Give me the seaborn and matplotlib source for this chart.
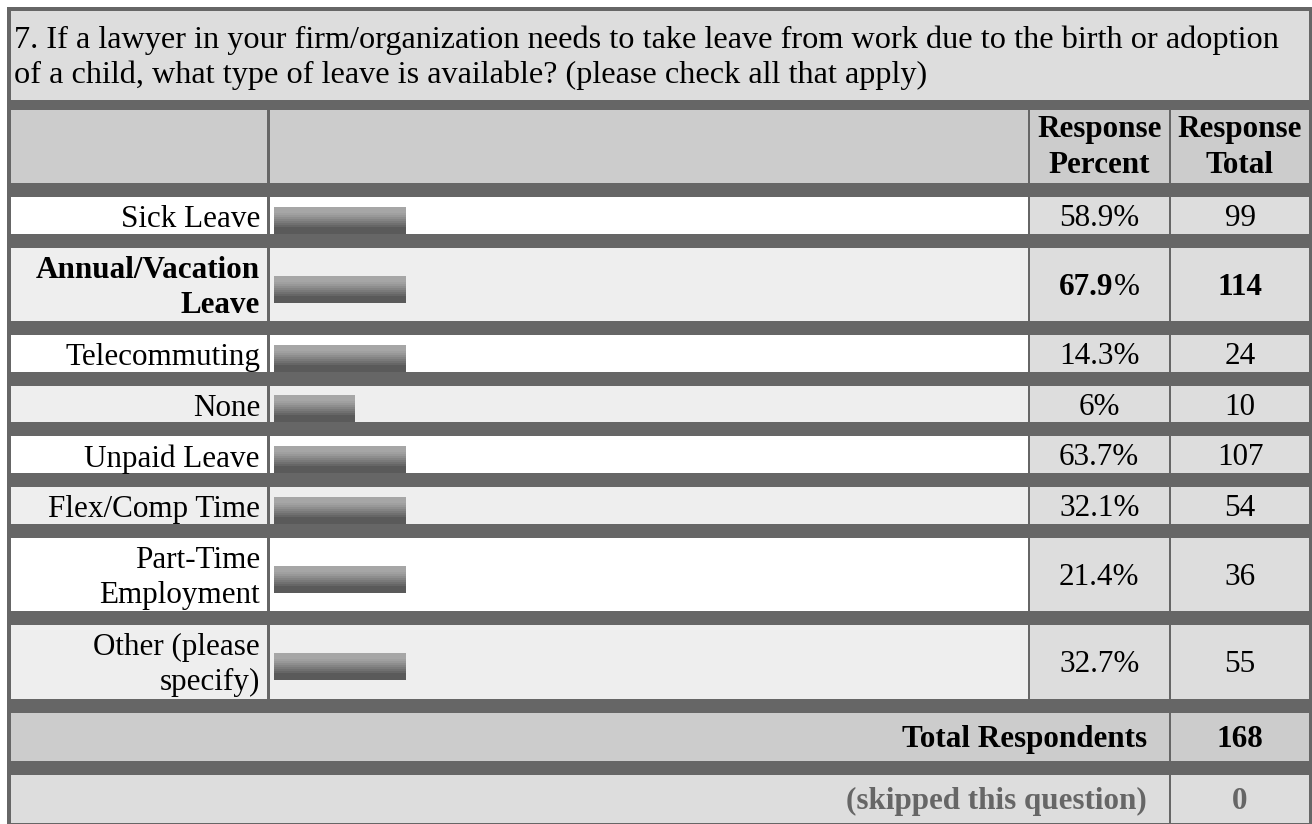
import numpy as np
import pandas as pd
import matplotlib
matplotlib.use("Agg")
import matplotlib.pyplot as plt
import seaborn as sns
from matplotlib.patches import Rectangle

# ---------------- data ----------------
title_lines = [
    "7. If a lawyer in your firm/organization needs to take leave from work due to the birth or adoption",
    "of a child, what type of leave is available? (please check all that apply)",
]
categories = ["Sick Leave", "Annual/Vacation\nLeave", "Telecommuting", "None",
              "Unpaid Leave", "Flex/Comp Time", "Part-Time\nEmployment", "Other (please\nspecify)"]
percents = [58.9, 67.9, 14.3, 6, 63.7, 32.1, 21.4, 32.7]
totals = [99, 114, 24, 10, 107, 54, 36, 55]
# relative bar lengths as drawn in the original chart
bar_lengths = [1.0, 1.0, 1.0, 0.61, 1.0, 1.0, 1.0, 1.0]
highlight = "Annual/Vacation\nLeave"
header_cols = ["Response\nPercent", "Response\nTotal"]
total_label = "Total Respondents"
total_respondents = 168
skipped_label = "(skipped this question)"
skipped = 0

# ---------------- style ----------------
sns.set_style("white")
plt.rcParams['font.family'] = ['Liberation Serif', 'DejaVu Serif']
plt.rcParams['text.color'] = 'black'
FS = 22.4
TITLE_FS = 23.2
TXT = '#000000'

W, H = 1312, 824
fig = plt.figure(figsize=(W / 100, H / 100), dpi=100)
ax = fig.add_axes([0, 0, 1, 1])
ax.set_xlim(0, W)
ax.set_ylim(H, 0)
ax.axis('off')

DARK = '#666666'
ax.add_patch(Rectangle((7, 7), W - 7, H - 7, color=DARK, lw=0, zorder=0))


def cell(x0, x1, y0, y1, color):
    ax.add_patch(Rectangle((x0, y0), x1 - x0, y1 - y0, color=color, lw=0, zorder=1))


# column edges
L0, L1 = 10.5, 266.5
B0, B1 = 269.5, 1027.5
P0, P1 = 1029.5, 1169.0
T0, T1 = 1171.0, 1309.0
PC = (P0 + P1) / 2
TC = (T0 + T1) / 2
LABEL_X = 260
BAR_X0 = 274
BAR_UNIT = 132

# title
cell(L0, T1, 10.5, 100, '#dddddd')
for k, line in enumerate(title_lines):
    ax.text(14, 47.5 + 35 * k, line, fontsize=TITLE_FS, color=TXT, va='baseline', ha='left', zorder=3)

# header
hy0, hy1 = 110, 183
cell(L0, L1, hy0, hy1, '#cccccc')
cell(B0, B1, hy0, hy1, '#cccccc')
cell(P0, P1, hy0, hy1, '#cccccc')
cell(T0, T1, hy0, hy1, '#cccccc')
for cx, hdr in zip([PC, TC], header_cols):
    for k, line in enumerate(hdr.split("\n")):
        ax.text(cx, 137 + 36 * k, line, fontsize=FS, color=TXT, weight='bold',
                ha='center', va='baseline', zorder=3)

# data rows
SEP = 14
SINGLE, DOUBLE = 36.6, 73.6
y = 197.0
bar_centers = []
renderer = fig.canvas.get_renderer()
for i, (cat, pct, tot) in enumerate(zip(categories, percents, totals)):
    lines = cat.split("\n")
    h = SINGLE if len(lines) == 1 else DOUBLE
    y0, y1 = y, y + h
    mid = (y0 + y1) / 2
    bg = '#ffffff' if i % 2 == 0 else '#eeeeee'
    cell(L0, L1, y0, y1, bg)
    cell(B0, B1, y0, y1, bg)
    cell(P0, P1, y0, y1, '#dddddd')
    cell(T0, T1, y0, y1, '#dddddd')
    bold = (cat == highlight)
    wt = 'bold' if bold else 'normal'
    if len(lines) == 1:
        ax.text(LABEL_X, y1 - 6.5, lines[0], fontsize=FS, color=TXT, weight=wt,
                ha='right', va='baseline', zorder=3)
        bar_centers.append(y1 - 13.5)
    else:
        ax.text(LABEL_X, y0 + 30, lines[0], fontsize=FS, color=TXT, weight=wt,
                ha='right', va='baseline', zorder=3)
        ax.text(LABEL_X, y0 + 65, lines[1], fontsize=FS, color=TXT, weight=wt,
                ha='right', va='baseline', zorder=3)
        bar_centers.append(y0 + 41.5)
    base = mid + 10.5
    num = f"{pct:g}"
    if bold:
        t1 = ax.text(0, base, num, fontsize=FS, color=TXT, weight='bold', ha='left', va='baseline', zorder=3)
        t2 = ax.text(0, base, "%", fontsize=FS, color=TXT, ha='left', va='baseline', zorder=3)
        w1 = t1.get_window_extent(renderer).width
        w2 = t2.get_window_extent(renderer).width
        left = PC - (w1 + w2) / 2
        t1.set_x(left)
        t2.set_x(left + w1)
    else:
        ax.text(PC, base, num + "%", fontsize=FS, color=TXT, ha='center', va='baseline', zorder=3)
    ax.text(TC, base, str(tot), fontsize=FS, color=TXT, weight=wt, ha='center', va='baseline', zorder=3)
    y = y1 + SEP

# total respondents row
y0, y1 = y, y + 48
cell(L0, P1, y0, y1, '#cccccc')
cell(T0, T1, y0, y1, '#cccccc')
mid = (y0 + y1) / 2
ax.text(1147, mid + 10, total_label, fontsize=FS, color=TXT, weight='bold', ha='right', va='baseline', zorder=3)
ax.text(TC, mid + 10, str(total_respondents), fontsize=FS, color=TXT, weight='bold',
        ha='center', va='baseline', zorder=3)
y = y1 + SEP

# skipped row
y0, y1 = y, 823
cell(L0, P1, y0, y1, '#dddddd')
cell(T0, T1, y0, y1, '#dddddd')
mid = (y0 + y1) / 2
ax.text(1147, mid + 10, skipped_label, fontsize=FS, weight='bold', color='#666666',
        ha='right', va='baseline', zorder=3)
ax.text(TC, mid + 10, str(skipped), fontsize=FS, weight='bold', color='#666666',
        ha='center', va='baseline', zorder=3)

# ---------------- bars (seaborn) ----------------
ax2 = fig.add_axes([0, 0, 1, 1])
ax2.patch.set_alpha(0)
df = pd.DataFrame({"category": categories, "length": bar_lengths, "ypos": bar_centers})
min_gap = np.min(np.diff(np.sort(np.array(bar_centers))))
sns.barplot(data=df, x="length", y="ypos", orient="h", native_scale=True,
            width=27 / min_gap, color="#777777", saturation=1, errorbar=None,
            linewidth=0, ax=ax2)
xlim = (-BAR_X0 / BAR_UNIT, (W - BAR_X0) / BAR_UNIT)

grad_vals = ([0xa6] * 6 + [0xa0] * 2 + [0x98] * 2 + [0x8e] * 2 + [0x84] * 2 + [0x7a] * 2
             + [0x70] * 2 + [0x66] * 2 + [0x5a] * 7)
grad = np.array(grad_vals, dtype=float)[:, None] / 255.0
grad_rgb = np.dstack([grad, grad, grad])
for p in list(ax2.patches):
    x0, yb = p.get_x(), p.get_y()
    w, h = p.get_width(), p.get_height()
    ytop, ybot = min(yb, yb + h), max(yb, yb + h)
    im = ax2.imshow(grad_rgb, extent=(x0, x0 + w, ybot, ytop), origin='upper',
                    aspect='auto', interpolation='nearest', zorder=3)
    im.set_clip_path(p)

ax2.set_xlim(*xlim)
ax2.set_ylim(H, 0)
ax2.axis('off')

fig.savefig("out.png", dpi=100)
